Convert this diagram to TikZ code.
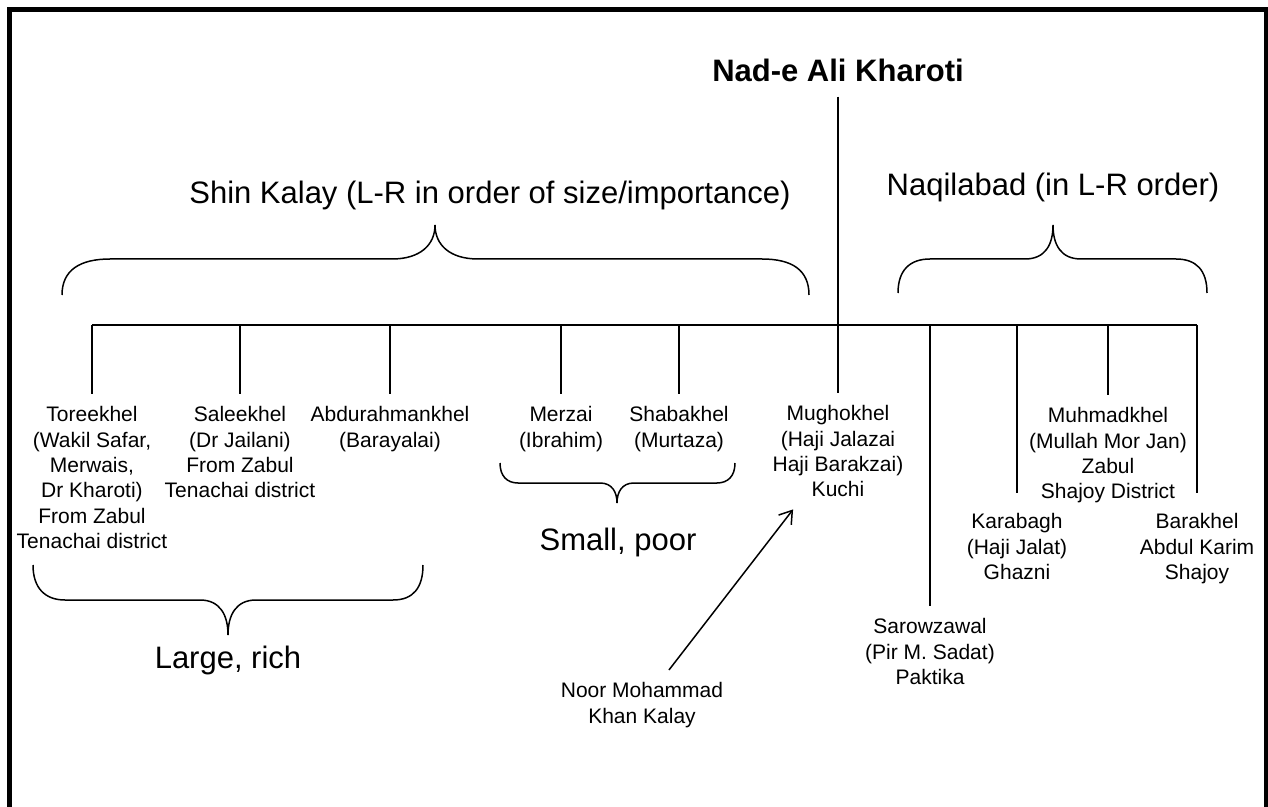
\documentclass[tikz,border=0pt]{standalone}
\usepackage{fontspec}
\setmainfont{Liberation Sans}
\usetikzlibrary{arrows.meta}
\tikzset{
	clan/.style={align=center, anchor=north, inner xsep=0pt, inner ysep=6pt, font=\fontsize{10.5}{12.7}\selectfont},
	group/.style={anchor=base, inner sep=0pt, font=\fontsize{15.5}{18}\selectfont},
	tie/.style={line width=0.75pt},
}
\begin{document}
\begin{tikzpicture}[x=0.5pt,y=-0.5pt]
		\useasboundingbox (0,0) rectangle (1268,807);
		\fill[white] (0,0) rectangle (1268,807);
		\draw[line width=2.5pt] (9.5,820) -- (9.5,10) -- (1266.5,10) -- (1266.5,820);
		% root
		\node[group, font=\bfseries\fontsize{15.5}{18}\selectfont, inner sep=7pt] (title) at (838,82) {Nad-e Ali Kharoti};
		\coordinate (hub) at (838,325);
		\draw[tie] (title) -- (hub);
		% bar
		\coordinate (c1) at (92,325);
		\coordinate (c2) at (240,325);
		\coordinate (c3) at (390,325);
		\coordinate (c4) at (561,325);
		\coordinate (c5) at (679,325);
		\coordinate (c7) at (930,325);
		\coordinate (c8) at (1017,325);
		\coordinate (c9) at (1108,325);
		\coordinate (c10) at (1197,325);
		\draw[tie] (c1) -- (c10);
		% clans
		\node[clan] (toree) at (92,394) {Toreekhel\\(Wakil Safar,\\Merwais,\\Dr Kharoti)\\From Zabul\\Tenachai district};
		\node[clan] (salee) at (240,394) {Saleekhel\\(Dr Jailani)\\From Zabul\\Tenachai district};
		\node[clan] (abdu) at (390,394) {Abdurahmankhel\\(Barayalai)};
		\node[clan] (merzai) at (561,394) {Merzai\\(Ibrahim)};
		\node[clan] (shaba) at (679,394) {Shabakhel\\(Murtaza)};
		\node[clan] (mugho) at (838,393) {Mughokhel\\(Haji Jalazai\\Haji Barakzai)\\Kuchi};
		\node[clan] (sarow) at (930,606) {Sarowzawal\\(Pir M. Sadat)\\Paktika};
		\node[clan, inner ysep=10pt] (kara) at (1017,493) {Karabagh\\(Haji Jalat)\\Ghazni};
		\node[clan] (muhmad) at (1108,395) {Muhmadkhel\\(Mullah Mor Jan)\\Zabul\\Shajoy District};
		\node[clan, inner ysep=10pt] (bara) at (1197,493) {Barakhel\\Abdul Karim\\Shajoy};
		\draw[tie] (c1) -- (toree);
		\draw[tie] (c2) -- (salee);
		\draw[tie] (c3) -- (abdu);
		\draw[tie] (c4) -- (merzai);
		\draw[tie] (c5) -- (shaba);
		\draw[tie] (hub) -- (mugho);
		\draw[tie] (c7) -- (sarow);
		\draw[tie] (c8) -- (kara);
		\draw[tie] (c9) -- (muhmad);
		\draw[tie] (c10) -- (bara);
		% noor mohammad
		\node[clan] (noor) at (642,670) {Noor Mohammad\\Khan Kalay};
		\draw[tie, -{Straight Barb[length=6pt,width=8pt]}] (noor) -- (mugho);
		% group labels
		\node[group] (shin) at (490,204) {Shin Kalay (L-R in order of size/importance)};
		\node[group] (naqil) at (1053,196) {Naqilabad (in L-R order)};
		\node[group] (small) at (618,550) {Small, poor};
		\node[group] (large) at (228,668) {Large, rich};
		% braces
		\draw[tie] (62,295) .. controls (62,270) and (80,259) .. (110,259) -- (392,259)
			.. controls (420,259) and (435,245) .. (435,225) .. controls (435,245) and (450,259) .. (478,259)
			-- (762,259) .. controls (792,259) and (809,270) .. (809,295);
		\draw[tie] (898,293) .. controls (898,270) and (910,259) .. (930,259) -- (1025,259)
			.. controls (1045,259) and (1053,245) .. (1053,225) .. controls (1053,245) and (1061,259) .. (1081,259)
			-- (1176,259) .. controls (1196,259) and (1207,270) .. (1207,293);
		\draw[tie] (33,565) .. controls (33,588) and (45,600) .. (65,600) -- (200,600)
			.. controls (220,600) and (228,615) .. (228,635) .. controls (228,615) and (236,600) .. (256,600)
			-- (393,600) .. controls (413,600) and (423,588) .. (423,565);
		\draw[tie] (500,463) .. controls (500,476) and (507,483) .. (518,483) -- (600,483)
			.. controls (612,483) and (617,492) .. (617,503) .. controls (617,492) and (622,483) .. (634,483)
			-- (717,483) .. controls (728,483) and (735,476) .. (735,463);
	\end{tikzpicture}
\end{document}
